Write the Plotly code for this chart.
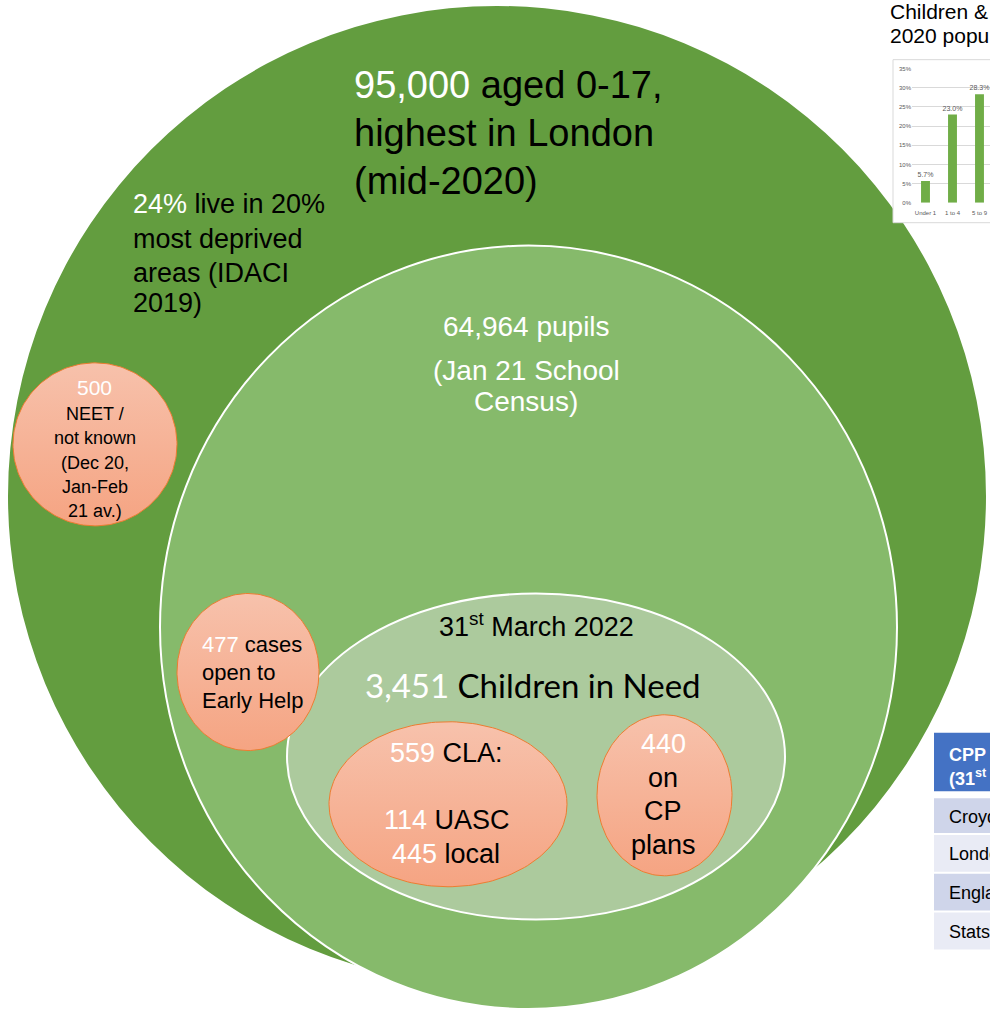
import numpy as np
import plotly.graph_objects as go

W, H = 990, 1017
ARIAL = "Liberation Sans, Arial, sans-serif"
CALIB = "Lato, Liberation Sans, sans-serif"

# ---------------- data ----------------
age_groups = ["Under 1", "1 to 4", "5 to 9"]
age_share = [5.7, 23.0, 28.3]
age_ticks = [0, 5, 10, 15, 20, 25, 30, 35]
age_tick_text = [f"{v}%" for v in age_ticks]

population_0_17 = "95,000"
deprived_share = "24%"
pupils = "64,964"
neet = "500"
early_help = "477"
children_in_need = "3,451"
cla_total = "559"
cla_uasc = "114"
cla_local = "445"
cp_plans = "440"

table_header = ["CPP rate per 10,000", "(31<sup>st</sup> March 2022)"]
table_rows = ["Croydon", "London", "England", "Stats neighbours"]

# ---------------- colours ----------------
DARK = "#639D3F"
MID = "#86BA6B"
LIGHT = "#ACCA9D"
SAL_TOP = "#F7C1AB"
SAL_BOT = "#F5A381"
SAL_LINE = "#ED7D31"
WHITE = "#FFFFFF"

fig = go.Figure()

shapes = []
# concentric population circles
shapes.append(dict(type="circle", xref="x", yref="y", x0=8, x1=986, y0=3, y1=989,
                   fillcolor=DARK, line=dict(width=0), layer="below"))
shapes.append(dict(type="circle", xref="x", yref="y", x0=160, x1=897, y0=244, y1=1012,
                   fillcolor=MID, line=dict(color=WHITE, width=2), layer="below"))
shapes.append(dict(type="circle", xref="x", yref="y", x0=287, x1=785, y0=594, y1=922,
                   fillcolor=LIGHT, line=dict(color=WHITE, width=2), layer="below"))
# mini chart frame
shapes.append(dict(type="rect", xref="x", yref="y", x0=893, x1=1000, y0=57, y1=221,
                   fillcolor=WHITE, line=dict(color="#D9D9D9", width=1), layer="below"))
# table cells
shapes.append(dict(type="rect", xref="x", yref="y", x0=934, x1=1000, y0=734, y1=793,
                   fillcolor="#4472C4", line=dict(width=0)))
row_bands = [(800, 835), (837, 874), (876, 913), (915, 952)]
for i, (a, b) in enumerate(row_bands):
    shapes.append(dict(type="rect", xref="x", yref="y", x0=934, x1=1000, y0=a, y1=b,
                       fillcolor="#CFD5EA" if i % 2 == 0 else "#E9EBF5", line=dict(width=0)))

# salmon bubbles as filled traces (vertical gradient)
def bubble(cx, cy, rx, ry):
    t = np.linspace(0, 2 * np.pi, 181)
    fig.add_trace(go.Scatter(
        x=cx + rx * np.cos(t), y=cy + ry * np.sin(t), mode="lines", fill="toself",
        line=dict(color=SAL_LINE, width=1),
        fillgradient=dict(type="vertical", colorscale=[[0, SAL_TOP], [1, SAL_BOT]],
                          start=cy - ry, stop=cy + ry),
        hoverinfo="skip", showlegend=False, xaxis="x", yaxis="y"))

bubble(95, 444, 82, 82)      # NEET
bubble(248, 673, 71, 79)     # Early Help
bubble(448, 806, 119, 83)    # CLA
bubble(664.5, 797, 67.5, 81) # CP plans

# mini bar chart
fig.add_trace(go.Bar(
    x=age_groups, y=age_share, xaxis="x2", yaxis="y2", width=0.33,
    marker=dict(color="#70AD47", line=dict(width=0)),
    text=[f"{v:.1f}%" for v in age_share], textposition="outside",
    constraintext="none",
    textfont=dict(size=7, color="#595959", family=ARIAL), cliponaxis=False,
    hoverinfo="skip", showlegend=False))

anns = []

def txt(x, y, text, size, color="black", family=ARIAL, xanchor="center"):
    anns.append(dict(x=x, y=y, xref="x", yref="y", text=text, showarrow=False,
                     font=dict(size=size, color=color, family=family),
                     xanchor=xanchor, yanchor="middle",
                     align="left" if xanchor == "left" else "center"))

def w(s):
    return f'<span style="color:#FFFFFF">{s}</span>'

# outer circle
txt(352, 82, f"{w(population_0_17)} aged 0-17,", 38, xanchor="left")
txt(352, 131, "highest in London", 38, xanchor="left")
txt(352, 179, "(mid-2020)", 38, xanchor="left")
txt(131, 202, f"{w(deprived_share)} live in 20%", 27, xanchor="left")
txt(131, 237, "most deprived", 27, xanchor="left")
txt(131, 272, "areas (IDACI", 27, xanchor="left")
txt(131, 302, "2019)", 27, xanchor="left")

# NEET bubble
txt(94, 387, neet, 21, color=WHITE)
txt(95, 413, "NEET /", 18)
txt(95, 438, "not known", 18)
txt(95, 463, "(Dec 20,", 18)
txt(95, 487, "Jan-Feb", 18)
txt(95, 511, "21 av.)", 18)

# pupils
txt(526, 325, f"{pupils} pupils", 28, color=WHITE)
txt(526, 370, "(Jan 21 School", 28, color=WHITE)
txt(526, 401, "Census)", 28, color=WHITE)

# Early help
txt(200, 645, f"{w(early_help)} cases", 22, xanchor="left")
txt(200, 673, "open to", 22, xanchor="left")
txt(200, 702, "Early Help", 22, xanchor="left")

# CIN
txt(536, 626, "31<sup>st</sup> March 2022", 27)
txt(533, 686, f"{w(children_in_need)} Children in Need", 33, family=CALIB)

# CLA
txt(446, 754, f"{w(cla_total)} CLA:", 27)
txt(447, 822, f"{w(cla_uasc)} UASC", 27)
txt(446, 856, f"{w(cla_local)} local", 27)

# CP
txt(663, 745, cp_plans, 27, color=WHITE)
txt(663, 780, "on", 27)
txt(663, 813, "CP", 27)
txt(663, 847, "plans", 27)

# mini chart title
txt(888, 9, "Children &amp; young people by age", 21, xanchor="left")
txt(888, 33, "2020 population estimates", 21, xanchor="left")

# table text
txt(947, 756, f"<b>{table_header[0]}</b>", 18, color=WHITE, xanchor="left")
txt(947, 779, f"<b>{table_header[1]}</b>", 18, color=WHITE, xanchor="left")
for (a, b), name in zip(row_bands, table_rows):
    txt(947, (a + b) / 2 + 1, name, 18, xanchor="left")

fig.update_layout(
    width=W, height=H, margin=dict(l=0, r=0, t=0, b=0),
    paper_bgcolor=WHITE, plot_bgcolor="rgba(0,0,0,0)",
    shapes=shapes, annotations=anns, showlegend=False,
    xaxis=dict(range=[0, W], visible=False, domain=[0, 1], fixedrange=True),
    yaxis=dict(range=[H, 0], visible=False, domain=[0, 1], fixedrange=True),
    xaxis2=dict(domain=[912 / W, 1.0], anchor="y2", range=[-0.5, -0.5 + (W - 912) / 27],
                showgrid=False, zeroline=False, showline=False, ticks="",
                ticklabelstandoff=5,
                tickfont=dict(size=6, color="#595959", family=ARIAL), fixedrange=True),
    yaxis2=dict(domain=[1 - 201 / H, 1 - 66 / H], anchor="x2", range=[0, 35],
                tickvals=age_ticks, ticktext=age_tick_text, showgrid=True,
                gridcolor="#D9D9D9", gridwidth=1, zeroline=False, showline=False,
                ticks="", tickfont=dict(size=6, color="#595959", family=ARIAL),
                fixedrange=True),
)

fig.write_html(
    "out.html",
    config={"displayModeBar": False},
    post_script="document.body.style.margin='0px';document.body.style.overflow='hidden';",
)
